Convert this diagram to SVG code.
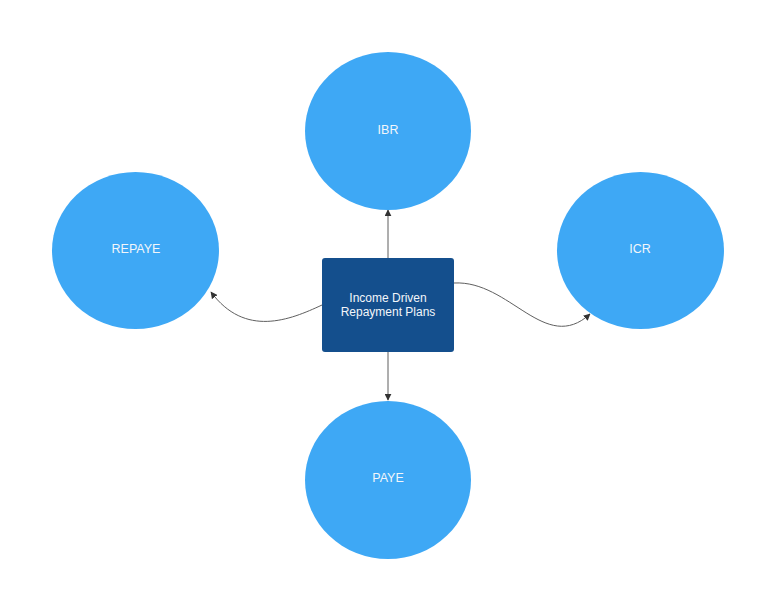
<svg xmlns="http://www.w3.org/2000/svg" width="768" height="594" viewBox="0 0 768 594">
<defs>
<style>
.c{fill:#3ea8f5;}
.b{fill:#144f8d;}
.t{font-family:"Liberation Sans",Arial,sans-serif;font-size:12.5px;fill:#f2f6fa;text-anchor:middle;}
.e{fill:none;stroke:#5f5f5f;stroke-width:1;marker-end:url(#ah);}
</style>
<marker id="ah" viewBox="0 0 10 10" refX="9" refY="5" markerWidth="7" markerHeight="7" markerUnits="userSpaceOnUse" orient="auto">
<path d="M0,0 L10,5 L0,10 z" fill="#333"/>
</marker>
</defs>
<rect width="768" height="594" fill="#ffffff"/>
<g id="connectors">
<path class="e" d="M388,258 L388,210"/>
<path class="e" d="M388,352 L388,400"/>
<path class="e" d="M322,305 C290,320 245,338 211,292"/>
<path class="e" d="M454,283 C510,280 545,355 590,314"/>
</g>
<g id="ibr">
<ellipse class="c" cx="388" cy="131" rx="83" ry="79"/>
<text class="t" x="388" y="134">IBR</text>
</g>
<g id="repaye">
<ellipse class="c" cx="135.5" cy="250.5" rx="83.5" ry="78.5"/>
<text class="t" x="136" y="253">REPAYE</text>
</g>
<g id="icr">
<ellipse class="c" cx="640.5" cy="250.5" rx="83.5" ry="78.5"/>
<text class="t" x="640" y="253">ICR</text>
</g>
<g id="paye">
<ellipse class="c" cx="388" cy="480" rx="83" ry="79"/>
<text class="t" x="388" y="482">PAYE</text>
</g>
<g id="center">
<rect class="b" x="322" y="258" width="132" height="94" rx="3"/>
<text class="t" x="388" y="302" style="font-size:12px">Income Driven</text>
<text class="t" x="388" y="316" style="font-size:12px">Repayment Plans</text>
</g>
</svg>
